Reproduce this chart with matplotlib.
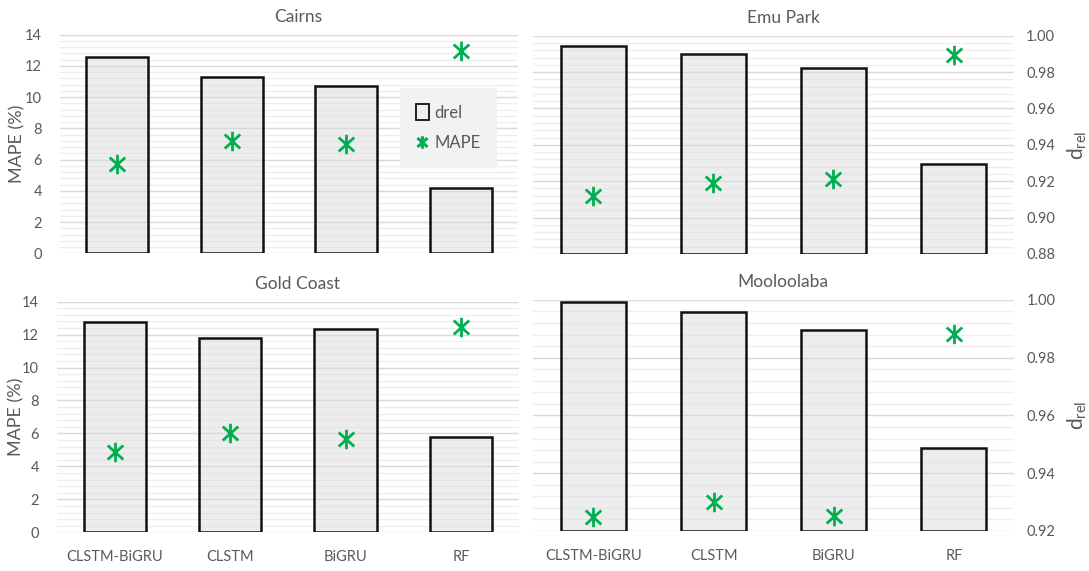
import matplotlib
matplotlib.use("Agg")
import matplotlib.pyplot as plt
from matplotlib.ticker import MultipleLocator, AutoMinorLocator, FormatStrFormatter
from matplotlib.lines import Line2D
from matplotlib.patches import Patch
from matplotlib.path import Path

plt.rcParams['font.family'] = ['Lato', 'DejaVu Sans']

# ---- data -------------------------------------------------------------
models = ["CLSTM-BiGRU", "CLSTM", "BiGRU", "RF"]
stations = ["Cairns", "Emu Park", "Gold Coast", "Mooloolaba"]

drel_cairns = [0.988, 0.9766, 0.972, 0.9158]
drel_emu = [0.9943, 0.9897, 0.9824, 0.9296]
drel_gold = [0.9929, 0.9873, 0.9904, 0.9531]
drel_mool = [0.9992, 0.9958, 0.9896, 0.9486]

mape_cairns = [5.73, 7.22, 6.97, 12.98]
mape_emu = [3.75, 4.54, 4.78, 12.76]
mape_gold = [4.89, 6.05, 5.66, 12.45]
mape_mool = [0.87, 1.74, 0.93, 11.94]

drel_limits = [(0.88, 1.00), (0.88, 1.00), (0.92, 1.00), (0.92, 1.00)]
mape_limits = (0, 14)

# ---- style ------------------------------------------------------------
TXT = "#595959"
BAR_FACE = (0.85, 0.85, 0.85, 0.45)
BAR_EDGE = "#111111"
GREEN = "#00b050"
GRID_MAJ = "#d9d9d9"
GRID_MIN = "#eeeeee"

# asterisk-like marker: vertical stroke crossed by an X
MARK = Path(
    [(0, -1), (0, 1), (-0.8, -0.72), (0.8, 0.72), (-0.8, 0.72), (0.8, -0.72)],
    [Path.MOVETO, Path.LINETO, Path.MOVETO, Path.LINETO, Path.MOVETO, Path.LINETO],
)

fig = plt.figure(figsize=(10.89, 5.71), dpi=100)

rects = [
    [0.0551, 0.5564, 0.4206, 0.3828],
    [0.4898, 0.5552, 0.4409, 0.3823],
    [0.0523, 0.0678, 0.4242, 0.4039],
    [0.4898, 0.0701, 0.4413, 0.4046],
]
label_x = [-0.076, None, -0.071, None]
drel_sets = [drel_cairns, drel_emu, drel_gold, drel_mool]
mape_sets = [mape_cairns, mape_emu, mape_gold, mape_mool]

xpos = list(range(len(models)))


def style_grid(ax, major):
    ax.yaxis.set_major_locator(MultipleLocator(major))
    ax.yaxis.set_minor_locator(AutoMinorLocator(5))
    ax.grid(axis="y", which="major", color=GRID_MAJ, lw=1.0, zorder=0)
    ax.grid(axis="y", which="minor", color=GRID_MIN, lw=0.9, zorder=0)
    ax.set_axisbelow(True)
    for s in ax.spines.values():
        s.set_visible(False)
    ax.tick_params(axis="y", which="both", length=0, colors=TXT, labelsize=10.5)
    ax.tick_params(axis="x", length=0, colors=TXT, labelsize=10.5, pad=13)


for i, (name, rect) in enumerate(zip(stations, rects)):
    left_col = i % 2 == 0
    bottom_row = i >= 2
    ax = fig.add_axes(rect)
    ax.set_xlim(-0.5, len(models) - 0.5)
    ax.set_xticks(xpos)
    ax.set_xticklabels(models if bottom_row else [])

    if left_col:
        # visible MAPE axis with grid; bars on a hidden drel axis
        ax.set_ylim(*mape_limits)
        style_grid(ax, 2)
        ax.yaxis.set_major_formatter(FormatStrFormatter("%d"))
        ax.tick_params(axis="y", pad=13)
        ax.set_ylabel("MAPE (%)", color=TXT, fontsize=13)
        ax.yaxis.set_label_coords(label_x[i], 0.5)
        axb = ax.twinx()
        axb.set_ylim(*drel_limits[i])
        axb.set_yticks([])
        for s in axb.spines.values():
            s.set_visible(False)
    else:
        # visible drel axis on the right; bars drawn on it directly
        ax.set_ylim(*drel_limits[i])
        style_grid(ax, 0.02)
        ax.yaxis.set_major_formatter(FormatStrFormatter("%.2f"))
        axb = ax

    axb.bar(xpos, [v - drel_limits[i][0] for v in drel_sets[i]],
            bottom=drel_limits[i][0], width=0.54, facecolor=BAR_FACE,
            edgecolor=BAR_EDGE, linewidth=1.8, zorder=2)

    axm = ax.twinx()
    axm.set_ylim(*mape_limits)
    axm.set_yticks([])
    for s in axm.spines.values():
        s.set_visible(False)
    axm.plot(xpos, mape_sets[i], linestyle="none", marker=MARK,
             markersize=14, markeredgewidth=2.0, color=GREEN, zorder=3)

    if not left_col:
        ax.yaxis.tick_right()
        ax.yaxis.set_label_position("right")
        ax.tick_params(axis="y", which="both", pad=9, length=0)
        ax.set_ylabel(r"$\mathregular{d_{rel}}$", color=TXT, fontsize=15)
        ax.yaxis.set_label_coords(1.108, 0.5)

    ax.set_title(name, color=TXT, fontsize=12.5, pad=9, x=0.52)

    if i == 0:
        handles = [Patch(facecolor="#eeeeee", edgecolor=BAR_EDGE, lw=1.3),
                   Line2D([], [], linestyle="none", marker=MARK,
                          markersize=9, markeredgewidth=2.2, color=GREEN)]
        leg = axm.legend(handles, ["drel", "MAPE"], loc="upper left",
                         bbox_to_anchor=(0.742, 0.756), frameon=True,
                         fancybox=False, framealpha=1, facecolor="#f2f2f2",
                         edgecolor="#f2f2f2", fontsize=12,
                         handlelength=0.8, handleheight=1.1,
                         handletextpad=0.3, labelspacing=0.85,
                         borderpad=0.95, borderaxespad=0)
        leg.get_frame().set_boxstyle("square", pad=0)
        for t in leg.get_texts():
            t.set_color(TXT)

fig.savefig("out.png", dpi=100, facecolor="white")
